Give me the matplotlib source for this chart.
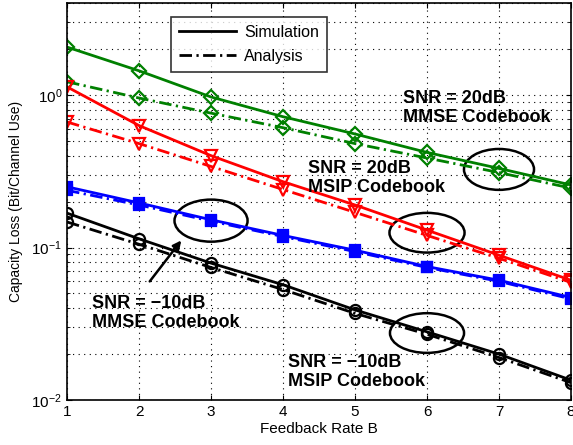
import numpy as np
import matplotlib
matplotlib.use("Agg")
import matplotlib.pyplot as plt
from matplotlib.patches import Ellipse
from matplotlib.lines import Line2D
from matplotlib.ticker import NullFormatter, LogLocator

plt.rcParams["font.family"] = ["Liberation Sans", "DejaVu Sans"]
plt.rcParams["mathtext.fontset"] = "custom"
plt.rcParams["mathtext.rm"] = "Liberation Sans"

B = [1, 2, 3, 4, 5, 6, 7, 8]

# SNR = 20dB, MMSE codebook
mmse20_sim = [2.06, 1.44, 0.97, 0.72, 0.555, 0.42, 0.33, 0.257]
mmse20_ana = [1.22, 0.955, 0.76, 0.61, 0.48, 0.386, 0.31, 0.245]
# SNR = 20dB, MSIP codebook
msip20_sim = [1.13, 0.63, 0.40, 0.27, 0.19, 0.13, 0.089, 0.061]
msip20_ana = [0.665, 0.48, 0.34, 0.24, 0.17, 0.12, 0.085, 0.059]
# SNR = -10dB, MMSE codebook
mmse10_sim = [0.25, 0.196, 0.152, 0.12, 0.096, 0.075, 0.061, 0.047]
mmse10_ana = [0.237, 0.19, 0.149, 0.118, 0.094, 0.074, 0.060, 0.046]
# SNR = -10dB, MSIP codebook
msip10_sim = [0.168, 0.114, 0.079, 0.057, 0.039, 0.028, 0.020, 0.0135]
msip10_ana = [0.147, 0.105, 0.074, 0.053, 0.037, 0.027, 0.019, 0.013]

green = (0, 0.5, 0)
red = (1, 0, 0)
blue = (0, 0, 1)
black = (0, 0, 0)
dashdot = (0, (4.5, 1.6, 0.8, 1.6))

series = [
    (mmse20_sim, mmse20_ana, green, "D", 7, "none"),
    (msip20_sim, msip20_ana, red, "v", 9, "none"),
    (mmse10_sim, mmse10_ana, blue, "s", 7, None),
    (msip10_sim, msip10_ana, black, "o", 8, "none"),
]

fig = plt.figure(figsize=(5.73, 4.45), dpi=100)
ax = fig.add_axes([0.117, 0.101, 0.8795, 0.892])

for sim, ana, c, m, ms, mfc in series:
    kw = dict(color=c, marker=m, markersize=ms, markeredgewidth=1.6, linewidth=2)
    if mfc is not None:
        kw["markerfacecolor"] = mfc
    ax.plot(B, sim, linestyle="-", **kw)
    ax.plot(B, ana, linestyle=dashdot, **kw)

ax.set_yscale("log")
ax.set_xlim(1, 8)
ax.set_ylim(0.01, 4)
ax.set_xticks(B)
ax.yaxis.set_major_locator(LogLocator(base=10, numticks=10))
ax.yaxis.set_minor_locator(LogLocator(base=10, subs=np.arange(2, 10), numticks=20))
ax.yaxis.set_minor_formatter(NullFormatter())
grid_style = dict(linestyle=(0, (1, 4)), color="black", linewidth=0.8)
ax.grid(True, which="major", **grid_style)
ax.grid(True, which="minor", axis="y", **grid_style)
ax.tick_params(which="both", direction="in", top=True, right=True, labelsize=11)
for s in ax.spines.values():
    s.set_linewidth(1.2)

ax.set_xlabel("Feedback Rate B", fontsize=11, labelpad=2)
ax.set_ylabel("Capacity Loss (Bit/Channel Use)", fontsize=10, labelpad=6)

# legend
handles = [Line2D([], [], color="black", linewidth=2, linestyle="-"),
           Line2D([], [], color="black", linewidth=2, linestyle=dashdot)]
leg = ax.legend(handles, ["Simulation", "Analysis"], loc="upper left",
                bbox_to_anchor=(0.19, 0.985), fontsize=11.5, frameon=True,
                fancybox=False, edgecolor="black", handlelength=3.6,
                borderpad=0.5, labelspacing=0.55, handletextpad=0.5)
leg.get_frame().set_linewidth(1.2)

# ellipses around groups (axes fraction)
def frac(x, y):
    return ((x - 1) / 7, (np.log10(y) + 2) / np.log10(400))

ell = [((7, 0.325), 0.139, 0.103), ((6, 0.125), 0.149, 0.10),
       ((3, 0.15), 0.145, 0.106), ((6, 0.0275), 0.147, 0.10)]
for (cx, cy), w, h in ell:
    ax.add_patch(Ellipse(frac(cx, cy), w, h, transform=ax.transAxes,
                         fill=False, edgecolor="black", linewidth=1.8))

ax.annotate("", xy=frac(2.61, 0.115), xytext=frac(2.125, 0.058),
            xycoords="axes fraction", textcoords="axes fraction",
            arrowprops=dict(arrowstyle="-|>", color="black", lw=1.8,
                            mutation_scale=12))

tkw = dict(fontsize=13, fontweight="bold", ha="left", va="center",
           linespacing=1.15)
ax.text(*frac(5.67, 0.82), "SNR = 20dB\nMMSE Codebook", transform=ax.transAxes, **tkw)
ax.text(*frac(4.35, 0.286), "SNR = 20dB\nMSIP Codebook", transform=ax.transAxes, **tkw)
ax.text(*frac(1.35, 0.037), "SNR = \u221210dB\nMMSE Codebook", transform=ax.transAxes, **tkw)
ax.text(*frac(4.07, 0.0153), "SNR = \u221210dB\nMSIP Codebook", transform=ax.transAxes, **tkw)

fig.savefig("out.png", dpi=100)
